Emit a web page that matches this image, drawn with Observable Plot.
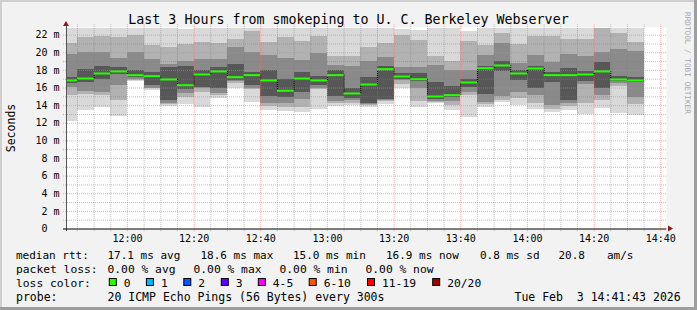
<!DOCTYPE html>
<html><head><meta charset="utf-8">
<script src="https://cdn.jsdelivr.net/npm/d3@7"></script>
<script src="https://cdn.jsdelivr.net/npm/@observablehq/plot@0.6"></script>
<style>
html,body{margin:0;padding:0;background:#f2f2f2}
#chart{position:relative;width:697px;height:310px;background:#f2f2f2;overflow:hidden}
#chart svg{position:absolute;left:0;top:0}
text.pre{white-space:pre}
</style></head><body><div id="chart"></div>
<script>
// ---------- data ----------
const day = "2026-02-03";
const windowStart = "11:41:43";
const windowEnd = "14:41:43";
const binEnds = ["11:45","11:50","11:55","12:00","12:05","12:10","12:15","12:20","12:25","12:30",
  "12:35","12:40","12:45","12:50","12:55","13:00","13:05","13:10","13:15","13:20",
  "13:25","13:30","13:35","13:40","13:45","13:50","13:55","14:00","14:05","14:10",
  "14:15","14:20","14:25","14:30","14:35"];
const median = [16.86,17.08,17.65,17.88,17.46,17.35,16.97,16.32,17.54,17.88,
  17.23,17.46,16.86,15.69,17.08,16.86,17.46,15.38,16.40,18.14,
  17.31,17.00,15.04,15.19,16.63,18.25,18.56,17.65,18.22,17.46,
  17.46,17.54,17.88,16.97,16.86];
const smokeMax = [22.8,22.8,22.8,22.8,22.8,22.8,22.8,22.6,22.8,22.8,
  22.8,22.8,22.8,22.8,22.8,22.8,22.8,22.8,22.8,22.8,
  22.6,22.5,22.8,22.8,22.4,22.8,22.8,22.8,22.8,22.8,
  22.8,22.7,22.8,22.8,22.8];
const smokeHi2 = [21.0,21.7,21.9,21.7,22.0,20.8,20.6,20.9,21.2,21.0,
  21.5,22.4,21.2,21.7,21.3,21.9,19.6,19.6,20.6,21.0,
  22.0,21.4,19.6,19.0,21.3,20.8,22.2,20.9,21.9,21.9,
  21.5,21.5,22.8,22.2,21.2];
const smokeHi1 = [19.8,20.0,20.0,19.3,20.0,19.2,18.7,19.0,19.2,19.2,
  20.6,20.0,19.7,19.3,19.1,19.9,18.6,18.4,19.0,19.5,
  18.3,18.3,18.6,18.0,18.0,19.7,21.0,18.8,19.7,18.9,
  19.8,19.6,20.0,20.4,20.2];
const smokeHi0 = [17.2,18.1,18.5,18.3,18.0,17.8,18.3,18.5,18.0,18.3,
  18.7,17.8,18.0,17.0,17.8,17.3,18.0,16.0,17.2,18.5,
  17.6,17.6,16.6,16.2,17.0,18.5,19.0,18.0,18.5,17.8,
  18.2,17.9,18.9,17.3,17.2];
const smokeLo0 = [16.5,16.6,17.0,17.5,17.2,16.3,14.6,15.8,16.1,16.0,
  16.9,16.3,15.0,14.9,15.5,16.3,15.0,14.8,14.3,14.7,
  17.0,16.7,14.7,14.9,16.1,15.3,17.9,16.8,16.0,16.6,
  14.6,16.7,15.9,16.7,16.6];
const smokeLo1 = [16.1,15.6,15.5,16.3,17.0,16.0,14.3,15.4,15.9,15.4,
  16.7,16.0,14.2,14.3,14.7,16.0,14.5,14.6,14.1,14.6,
  16.8,15.9,14.5,14.5,15.5,14.4,15.0,15.5,15.1,14.0,
  14.3,16.4,15.2,16.5,14.9];
const smokeLo2 = [15.1,15.3,15.1,14.6,16.9,15.9,14.1,14.9,15.5,15.1,
  16.5,15.8,13.9,13.8,13.8,15.8,14.2,14.3,14.0,14.5,
  16.4,14.5,14.4,14.0,15.2,14.1,14.6,14.8,14.2,13.6,
  13.9,14.3,14.6,16.2,14.1];
const smokeMin = [12.2,13.4,13.8,12.8,16.75,15.7,13.95,14.1,13.8,14.8,
  16.0,14.4,13.5,13.3,13.2,13.6,13.9,14.0,13.8,14.1,
  15.9,13.8,14.3,13.4,12.7,13.8,14.4,14.0,13.6,13.2,
  13.4,13.0,13.7,13.1,12.9];
const yTop = 22.87;
const yTicks = [0,2,4,6,8,10,12,14,16,18,20,22];
const xTickLabels = ["12:00","12:20","12:40","13:00","13:20","13:40","14:00","14:20","14:40"];
const titleText = "Last 3 Hours from smokeping to U. C. Berkeley Webserver";
const yLabel = "Seconds";
const sideText = "RRDTOOL / TOBI OETIKER";
const statsLine = ["median rtt:","17.1 ms avg","18.6 ms max","15.0 ms min","16.9 ms now","0.8 ms sd","20.8","am/s"];
const lossLine = ["packet loss:","0.00 % avg","0.00 % max","0.00 % min","0.00 % now"];
const lossColorTitle = "loss color:";
const lossLabels = ["0","1","2","3","4-5","6-10","11-19","20/20"];
const lossColors = ["#26ff00","#00b8ff","#0059ff","#5e00ff","#ff00ff","#ff5500","#ff0000","#a10000"];
const probeLine = ["probe:","20 ICMP Echo Pings (56 Bytes) every 300s","Tue Feb  3 14:41:43 2026"];

// ---------- build ----------
const T = s => new Date(`${day}T${s.length === 5 ? s + ":00" : s}Z`);
const t0 = T(windowStart), t1 = T(windowEnd);
const cols = binEnds.map((e, i) => ({
  x1: i === 0 ? t0 : T(binEnds[i - 1]), x2: T(e),
  med: median[i], prev: i === 0 ? median[0] : median[i - 1],
  max: smokeMax[i], hi2: smokeHi2[i], hi1: smokeHi1[i], hi0: smokeHi0[i],
  lo0: smokeLo0[i], lo1: smokeLo1[i], lo2: smokeLo2[i], min: smokeMin[i]
}));
const majorT = xTickLabels.map(T);
const minorT = d3.utcMinute.every(5).range(t0, t1).filter(d => d.getUTCMinutes() % 20 !== 0);
const majorY = yTicks.filter(d => d > 0);
const minorY = yTicks.slice(0, -1).map(d => d + 1);
const pad = 54 * 1000; // small outside tick extension in time units

const chart = Plot.plot({
  width: 697, height: 310,
  marginLeft: 66, marginRight: 31, marginTop: 27, marginBottom: 81.5,
  style: {background: "transparent", fontFamily: "'DejaVu Sans Mono', monospace", fontSize: "10px", color: "#000", overflow: "visible"},
  x: {type: "utc", domain: [t0, t1]},
  y: {domain: [0, yTop]},
  marks: [
    Plot.frame({fill: "#fff", stroke: "none"}),
    Plot.rect(cols, {x1: "x1", x2: "x2", y1: "min", y2: "max", fill: "#d9d9d9", shapeRendering: "crispEdges"}),
    Plot.rect(cols, {x1: "x1", x2: "x2", y1: "lo2", y2: "hi2", fill: "#b2b2b2", shapeRendering: "crispEdges"}),
    Plot.rect(cols, {x1: "x1", x2: "x2", y1: "lo1", y2: "hi1", fill: "#8a8a8a", shapeRendering: "crispEdges"}),
    Plot.rect(cols, {x1: "x1", x2: "x2", y1: "lo0", y2: "hi0", fill: "#575757", shapeRendering: "crispEdges"}),
    // grid
    Plot.ruleX(minorT, {x: d => d, y1: -0.3, y2: yTop + 0.3, stroke: "#808080", strokeOpacity: 0.5, strokeDasharray: "1,1"}),
    Plot.ruleY(minorY, {y: d => d, x1: new Date(+t0 - pad), x2: new Date(+t1 + pad / 3), stroke: "#808080", strokeOpacity: 0.5, strokeDasharray: "1,1"}),
    Plot.ruleX(majorT, {x: d => d, y1: -0.3, y2: yTop + 0.3, stroke: "#ff7070", strokeOpacity: 0.6, strokeDasharray: "1,1"}),
    Plot.ruleY(majorY, {y: d => d, x1: new Date(+t0 - pad), x2: new Date(+t1 + pad / 3), stroke: "#ff7070", strokeOpacity: 0.6, strokeDasharray: "1,1"}),
    // median
    Plot.ruleX(cols.slice(1), {x: "x1", y1: "prev", y2: "med", stroke: "#000", strokeDasharray: "1,1"}),
    Plot.ruleY(cols, {x1: "x1", x2: "x2", y: "med", stroke: "#26ff00", strokeWidth: 2}),
    // axes
    Plot.ruleX([t0], {y1: -0.3, y2: yTop + 0.1, stroke: "#555"}),
    Plot.ruleY([0], {x1: new Date(+t0 - pad), x2: new Date(+t1 + pad / 9), stroke: "#000"}),
    Plot.axisY(yTicks, {anchor: "left", tickSize: 0, tickPadding: 7, label: null,
      tickFormat: d => d === 0 ? "0\u00a0\u00a0" : d + " m"}),
    Plot.axisX(majorT, {anchor: "bottom", tickSize: 0, tickPadding: 6, label: null,
      tickFormat: d3.utcFormat("%H:%M")})
  ]
});

document.getElementById("chart").appendChild(chart);
const svg = d3.select(chart);
const xs = chart.scale("x"), ys = chart.scale("y");
const ax = xs.apply(t0), ay0 = ys.apply(0), ayTop = ys.apply(yTop), axR = xs.apply(t1);
const deco = svg.append("g");
// arrows
deco.append("path").attr("d", `M${ax - 3},${ayTop - 1} L${ax + 3},${ayTop - 1} L${ax},${ayTop - 6} Z`).attr("fill", "#8b1a1a");
deco.append("path").attr("d", `M${axR + 2},${ay0 - 3} L${axR + 2},${ay0 + 3} L${axR + 7},${ay0} Z`).attr("fill", "#8b1a1a");
// frame border
deco.append("rect").attr("x", 0).attr("y", 0).attr("width", 697).attr("height", 2).attr("fill", "#cfcfcf");
deco.append("rect").attr("x", 0).attr("y", 0).attr("width", 2).attr("height", 310).attr("fill", "#cfcfcf");
deco.append("rect").attr("x", 0).attr("y", 307).attr("width", 697).attr("height", 3).attr("fill", "#9e9e9e");
deco.append("rect").attr("x", 694).attr("y", 0).attr("width", 3).attr("height", 310).attr("fill", "#9e9e9e");

const txt = (x, y, s, size, opts = {}) => {
  const t = deco.append("text").attr("class", "pre").attr("x", x).attr("y", y)
    .attr("font-size", size).attr("font-family", "'DejaVu Sans Mono', monospace")
    .attr("fill", opts.fill || "#000").attr("text-anchor", opts.anchor || "start").text(s);
  if (opts.transform) t.attr("transform", opts.transform);
  return t;
};
txt(348.5, 24, titleText, "13.3px", {anchor: "middle"});
txt(0, 0, yLabel, "11.5px", {anchor: "middle", transform: "translate(15,128) rotate(-90)"});
txt(0, 0, sideText, "7.7px", {fill: "#a8a8a8", transform: "translate(685,12) rotate(90)"});

const statX = [16, 107.5, 200.5, 293, 386, 480, 558.5, 607];
statsLine.forEach((s, i) => txt(statX[i], 258.5, s, "11px"));
const lossX = [16, 107.5, 193.5, 279.5, 365.5];
lossLine.forEach((s, i) => txt(lossX[i], 272.5, s, "11.3px"));
txt(16, 286.5, lossColorTitle, "11.3px");
const boxX = [108.8, 145.9, 183.3, 220.8, 257.8, 308.7, 367, 432.2];
lossLabels.forEach((s, i) => {
  deco.append("rect").attr("x", boxX[i] + 0.5).attr("y", 278.5).attr("width", 7).attr("height", 7)
    .attr("fill", lossColors[i]).attr("stroke", "#000").attr("stroke-width", 1);
  txt(boxX[i] + 15, 286.5, s, "11.3px");
});
const probeX = [16, 107.5, 514.5];
probeLine.forEach((s, i) => txt(probeX[i], 300.5, s, "11.5px"));
</script></body></html>
